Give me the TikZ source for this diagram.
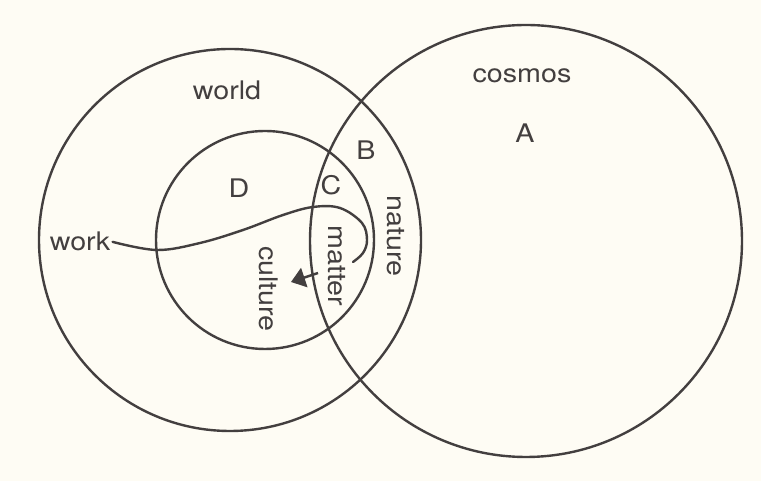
\documentclass[tikz,border=0pt]{standalone}
\usepackage{fontspec}
\setmainfont{TeX Gyre Heros}[FakeStretch=1.12]
\usetikzlibrary{arrows.meta}
\definecolor{paper}{HTML}{FEFCF4}
\definecolor{ink}{HTML}{433F3F}

\begin{document}
\begin{tikzpicture}[
  x=0.5pt,y=0.5pt,
  font=\fontsize{12.8}{14}\selectfont,
  ring/.style={draw=ink,line width=1.2pt},
  lbl/.style={text=ink,inner sep=1pt,anchor=base},
  vlbl/.style={text=ink,inner sep=1pt,rotate=-90},
  arr/.style={-{Triangle[length=7pt,width=10pt]},draw=ink,line width=1.2pt}
]
\fill[paper] (0,0) rectangle (761,481);
\useasboundingbox (0,0) rectangle (761,481);

% the three circles
\coordinate (world) at (230,241);
\coordinate (cosmos) at (526,240);
\coordinate (inner) at (265,241);
\draw[ring] (world) circle[radius=191];
\draw[ring] (cosmos) circle[radius=216];
\draw[ring] (inner) circle[radius=109];

% labels
\node[lbl] (worldlbl) at (227,381) {world};
\node[lbl] (cosmoslbl) at (522,398) {cosmos};
\node[lbl] (a) at (525,338) {A};
\node[lbl] (b) at (366,321) {B};
\node[lbl] (c) at (331,286) {C};
\node[lbl] (d) at (239,283) {D};
\node[lbl] (work) at (80,230) {work};
\node[vlbl] (nature) at (396,245) {nature};
\node[vlbl] (matter) at (337,215) {matter};
\node[vlbl] (culture) at (269,192) {culture};

% the work path and arrow
\coordinate (hook) at (353,219);
\draw[ring,line cap=round] plot[smooth,tension=0.6] coordinates {
  (work.east) (157,231) (200,238) (243,251) (283,266) (313,274)
  (340,273) (362,258) (367,241) (363,228) (hook)};
\coordinate (tail) at (318,208);
\coordinate (tip) at (291,199);
\draw[arr] (tail) -- (tip);
\end{tikzpicture}
\end{document}
